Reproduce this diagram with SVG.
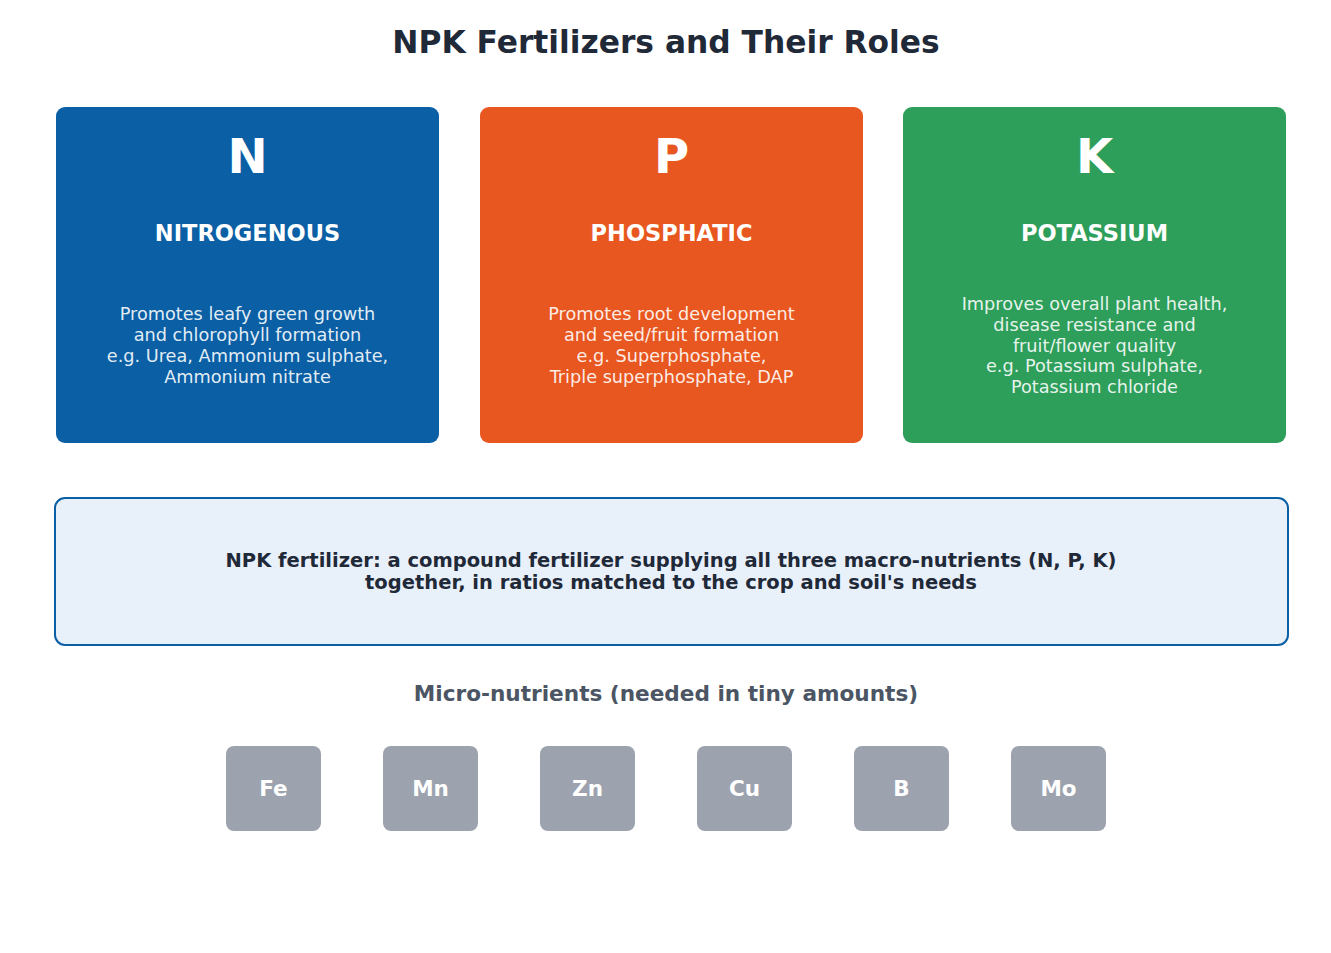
<svg xmlns="http://www.w3.org/2000/svg" width="1331" height="953" viewBox="0 0 1331 953">
<style>
text{font-family:"DejaVu Sans","Liberation Sans",sans-serif;text-anchor:middle}
.title{font-size:31.3px;font-weight:bold;fill:#1f2937}
.letter{font-size:48px;font-weight:bold;fill:#ffffff}
.sub{font-size:22.5px;font-weight:bold;fill:#ffffff}
.body{font-size:17.7px;fill:#ffffff;fill-opacity:0.9}
.card{stroke:none}
.npk{fill:#e8f0fa;stroke:#0b5fa5;stroke-width:2}
.npkt{font-size:19.5px;font-weight:bold;fill:#1f2937}
.micl{font-size:21.6px;font-weight:bold;fill:#4b5563}
.mbox{fill:#9ca3af}
.mt{font-size:21.5px;font-weight:bold;fill:#ffffff}
</style>
<rect width="1331" height="953" fill="#ffffff"/>
<text class="title" x="666" y="53">NPK Fertilizers and Their Roles</text>

<g id="node-n">
<rect class="card" x="56" y="107" width="383" height="336" rx="9" fill="#0b5fa5"/>
<text class="letter" x="247.5" y="173">N</text>
<text class="sub" x="247.5" y="241">NITROGENOUS</text>
<text class="body" x="247.5" y="320">Promotes leafy green growth</text>
<text class="body" x="247.5" y="341">and chlorophyll formation</text>
<text class="body" x="247.5" y="362">e.g. Urea, Ammonium sulphate,</text>
<text class="body" x="247.5" y="383">Ammonium nitrate</text>
</g>

<g id="node-p">
<rect class="card" x="480" y="107" width="383" height="336" rx="9" fill="#e85720"/>
<text class="letter" x="671.5" y="173">P</text>
<text class="sub" x="671.5" y="241">PHOSPHATIC</text>
<text class="body" x="671.5" y="320">Promotes root development</text>
<text class="body" x="671.5" y="341">and seed/fruit formation</text>
<text class="body" x="671.5" y="362">e.g. Superphosphate,</text>
<text class="body" x="671.5" y="383">Triple superphosphate, DAP</text>
</g>

<g id="node-k">
<rect class="card" x="903" y="107" width="383" height="336" rx="9" fill="#2e9e5b"/>
<text class="letter" x="1094.5" y="173">K</text>
<text class="sub" x="1094.5" y="241">POTASSIUM</text>
<text class="body" x="1094.5" y="310">Improves overall plant health,</text>
<text class="body" x="1094.5" y="331">disease resistance and</text>
<text class="body" x="1094.5" y="351.5">fruit/flower quality</text>
<text class="body" x="1094.5" y="372">e.g. Potassium sulphate,</text>
<text class="body" x="1094.5" y="393">Potassium chloride</text>
</g>

<g id="node-npk">
<rect class="npk" x="55" y="498" width="1233" height="147" rx="10"/>
<text class="npkt" x="671" y="567">NPK fertilizer: a compound fertilizer supplying all three macro-nutrients (N, P, K)</text>
<text class="npkt" x="671" y="589">together, in ratios matched to the crop and soil's needs</text>
</g>

<text class="micl" x="666" y="701">Micro-nutrients (needed in tiny amounts)</text>

<g id="node-fe"><rect class="mbox" x="226" y="746" width="95" height="85" rx="8"/><text class="mt" x="273.5" y="796">Fe</text></g>
<g id="node-mn"><rect class="mbox" x="383" y="746" width="95" height="85" rx="8"/><text class="mt" x="430.5" y="796">Mn</text></g>
<g id="node-zn"><rect class="mbox" x="540" y="746" width="95" height="85" rx="8"/><text class="mt" x="587.5" y="796">Zn</text></g>
<g id="node-cu"><rect class="mbox" x="697" y="746" width="95" height="85" rx="8"/><text class="mt" x="744.5" y="796">Cu</text></g>
<g id="node-b"><rect class="mbox" x="854" y="746" width="95" height="85" rx="8"/><text class="mt" x="901.5" y="796">B</text></g>
<g id="node-mo"><rect class="mbox" x="1011" y="746" width="95" height="85" rx="8"/><text class="mt" x="1058.5" y="796">Mo</text></g>

<g id="connectors"></g>
</svg>
